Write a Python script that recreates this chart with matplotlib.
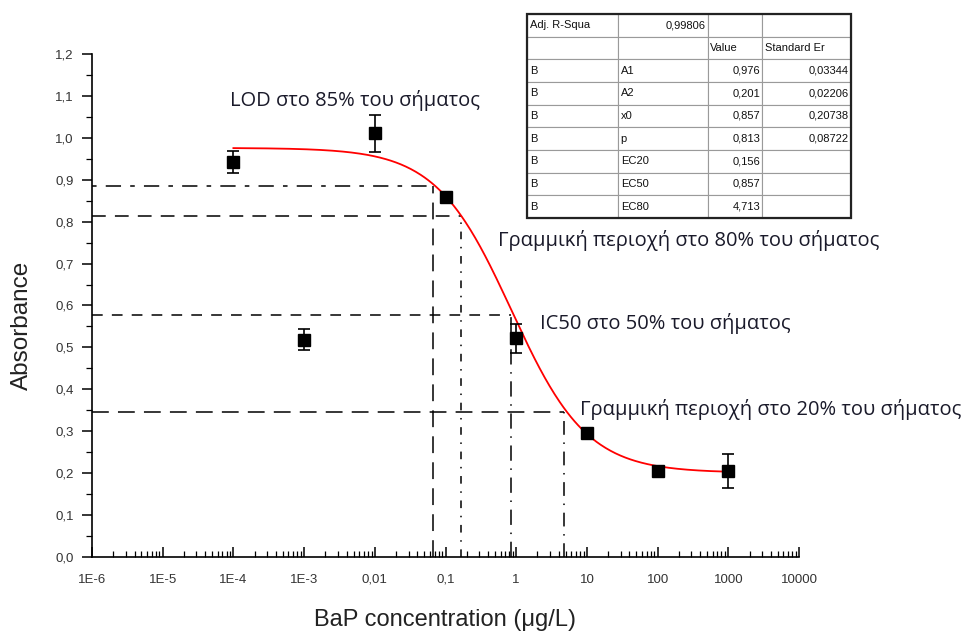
import numpy as np
import matplotlib
matplotlib.use("Agg")
import matplotlib.pyplot as plt
from matplotlib.ticker import FixedLocator, FuncFormatter, LogLocator, NullFormatter, MultipleLocator

# ---------------- data ----------------
conc = [1e-4, 1e-3, 1e-2, 1e-1, 1, 10, 100, 1000]
absorb = [0.943, 0.518, 1.011, 0.860, 0.522, 0.297, 0.206, 0.205]
absorb_err = [0.026, 0.025, 0.044, 0.0, 0.035, 0.0, 0.0, 0.040]

# Logistic fit parameters (from the fit table)
A1, A2, x0, p = 0.976, 0.201, 0.857, 0.813
fit_range = [1e-4, 1000]

# reference lines (levels) and their concentrations
ref_levels = [0.885, 0.813, 0.578, 0.347]
ref_conc = [0.0665, 0.166, 0.857, 4.7]

x_tick_vals = [1e-6, 1e-5, 1e-4, 1e-3, 1e-2, 1e-1, 1, 10, 100, 1000, 10000]
x_tick_labels = ["1E-6", "1E-5", "1E-4", "1E-3", "0,01", "0,1", "1", "10", "100", "1000", "10000"]

annotations = [
    "LOD στο 85% του σήματος",
    "Γραμμική περιοχή στο 80% του σήματος",
    "IC50 στο 50% του σήματος",
    "Γραμμική περιοχή στο 20% του σήματος",
]

table_rows = [
    ["Adj. R-Squa", "0,99806", "", ""],
    ["", "", "Value", "Standard Er"],
    ["B", "A1", "0,976", "0,03344"],
    ["B", "A2", "0,201", "0,02206"],
    ["B", "x0", "0,857", "0,20738"],
    ["B", "p", "0,813", "0,08722"],
    ["B", "EC20", "0,156", ""],
    ["B", "EC50", "0,857", ""],
    ["B", "EC80", "4,713", ""],
]

# ---------------- figure ----------------
fig = plt.figure(figsize=(9.66, 6.34), dpi=100)
ax = fig.add_axes([92/966, 1-557/634, (799-92)/966, (557-54)/634])

ax.set_xscale("log")
ax.set_xlim(1e-6, 1e4)
ax.set_ylim(0, 1.2)

# fit curve
xf = np.logspace(np.log10(fit_range[0]), np.log10(fit_range[1]), 400)
yf = A2 + (A1 - A2) / (1 + (xf / x0) ** p)
ax.plot(xf, yf, color="#ff0000", lw=1.3, zorder=3)

# data with error bars
ax.errorbar(conc, absorb, yerr=absorb_err, fmt="s", color="black", ms=8.5,
            ecolor="black", elinewidth=1.2, capsize=4, capthick=1.2, zorder=4)

# reference lines
h_styles = [(0, (3, 6, 10, 6)), (0, (9, 6)), (0, (7, 6)), (0, (11, 6))]
v_styles = [(0, (11, 6)), (0, (5, 5, 1, 5)), (0, (10, 5, 1, 5)), (0, (9, 5, 1, 5))]
for lvl, c, hs, vs in zip(ref_levels, ref_conc, h_styles, v_styles):
    ax.plot([1e-6, c], [lvl, lvl], color="black", lw=1.1, ls=hs, zorder=2)
    ax.plot([c, c], [0, lvl], color="black", lw=1.1, ls=vs, zorder=2)

# spines and ticks
ax.spines["top"].set_visible(False)
ax.spines["right"].set_visible(False)
for s in ("left", "bottom"):
    ax.spines[s].set_linewidth(1.2)

ax.xaxis.set_major_locator(FixedLocator(x_tick_vals))
ax.set_xticklabels(x_tick_labels)
ax.xaxis.set_minor_locator(LogLocator(base=10, subs=np.arange(2, 10), numticks=100))
ax.xaxis.set_minor_formatter(NullFormatter())
ax.tick_params(axis="x", which="major", direction="in", length=7, width=1.1, pad=18.5)
ax.tick_params(axis="x", which="minor", direction="in", length=4, width=0.9)

ax.yaxis.set_major_locator(MultipleLocator(0.1))
ax.yaxis.set_minor_locator(MultipleLocator(0.05))
ax.yaxis.set_major_formatter(FuncFormatter(lambda v, pos: f"{v:.1f}".replace(".", ",")))
ax.tick_params(axis="y", which="major", direction="out", length=7, width=1.1, pad=6)
ax.tick_params(axis="y", which="minor", direction="out", length=4, width=0.9)
ax.tick_params(axis="both", labelsize=9.5, labelcolor="#333333")
for lab in ax.get_xticklabels():
    lab.set_family("Liberation Sans")
    lab.set_verticalalignment("baseline")
for lab in ax.get_yticklabels():
    lab.set_family("Liberation Sans")

ax.set_xlabel("BaP concentration (μg/L)", fontsize=17, family="Liberation Sans",
              color="#222222")
ax.xaxis.set_label_coords(0.5, -0.125)
ax.xaxis.label.set_verticalalignment("center")
ax.set_ylabel("Absorbance", fontsize=17.5, family="Liberation Sans",
              color="#222222")
ax.yaxis.set_label_coords(-0.099, 0.461)
ax.yaxis.label.set_verticalalignment("center")

# annotations
ann_pos = [(8.9e-5, 1.088), (0.553, 0.754), (2.17, 0.558), (7.95, 0.353)]
for txt, (xa, ya) in zip(annotations, ann_pos):
    ax.text(xa, ya, txt, fontsize=14.5, family="Open Sans", color="#1a1a2a",
            ha="left", va="center", clip_on=False)

# ---------------- table ----------------
tax = fig.add_axes([527/966, 1-218/634, (851-527)/966, (218-14)/634])
tax.axis("off")
col_w = [91, 90, 54, 89]
tot = sum(col_w)
tbl = tax.table(cellText=table_rows, bbox=[0, 0, 1, 1],
                colWidths=[w/tot for w in col_w], cellLoc="left")
tbl.auto_set_font_size(False)
tbl.set_fontsize(8)
for (r, c), cell in tbl.get_celld().items():
    cell.set_edgecolor("#9a9a9a")
    cell.set_linewidth(0.8)
    cell.PAD = 0.03
    txt = cell.get_text()
    txt.set_family("Liberation Sans")
    txt.set_color("#111111")
    right = (c == 1 and r == 0) or (c >= 2 and r >= 2)
    cell._loc = "right" if right else "left"
    txt.set_horizontalalignment("right" if right else "left")
tax.add_patch(plt.Rectangle((0, 0), 1, 1, transform=tax.transAxes, fill=False,
                            edgecolor="#222222", lw=1.6, clip_on=False, zorder=5))

fig.savefig("out.png", dpi=100)
